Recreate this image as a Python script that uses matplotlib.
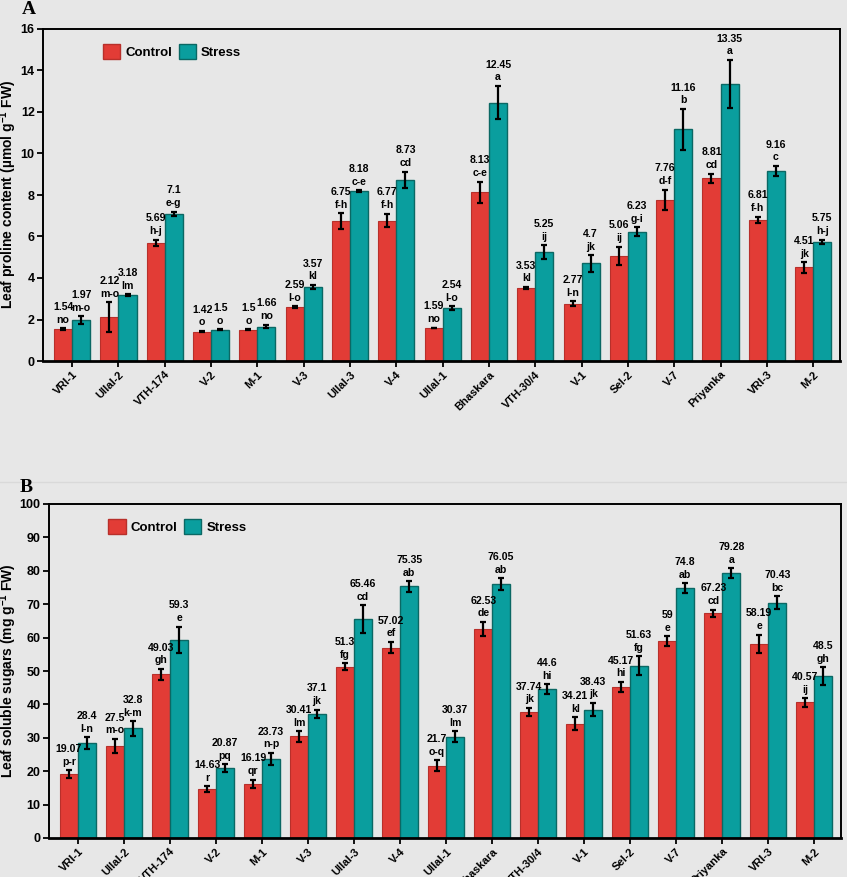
"""
Leaf proline (A) and leaf soluble sugars (B) under control vs. stress,
17 genotypes, grouped bars with SE and DMRT letters.
"""
import matplotlib

matplotlib.use("Agg")
import matplotlib.pyplot as plt
import numpy as np
from matplotlib.patches import Patch

plt.rcParams["font.family"] = ["Liberation Sans", "DejaVu Sans"]
plt.rcParams["mathtext.fontset"] = "custom"
plt.rcParams["mathtext.rm"] = "Liberation Sans:bold"
plt.rcParams["mathtext.it"] = "Liberation Sans:bold"
plt.rcParams["mathtext.bf"] = "Liberation Sans:bold"

GENOTYPES = ["VRI-1", "Ullal-2", "VTH-174", "V-2", "M-1", "V-3", "Ullal-3", "V-4",
             "Ullal-1", "Bhaskara", "VTH-30/4", "V-1", "Sel-2", "V-7", "Priyanka",
             "VRI-3", "M-2"]

# panel A - proline (umol g-1 FW)
proline_ctrl = [1.54, 2.12, 5.69, 1.42, 1.5, 2.59, 6.75, 6.77, 1.59, 8.13, 3.53,
                2.77, 5.06, 7.76, 8.81, 6.81, 4.51]
proline_ctrl_err = [0.03, 0.72, 0.16, 0.03, 0.03, 0.04, 0.38, 0.33, 0.02, 0.52,
                    0.04, 0.12, 0.45, 0.5, 0.22, 0.15, 0.26]
proline_ctrl_let = ["no", "m-o", "h-j", "o", "o", "l-o", "f-h", "f-h", "no", "c-e",
                    "kl", "l-n", "ij", "d-f", "cd", "f-h", "jk"]
proline_str = [1.97, 3.18, 7.1, 1.5, 1.66, 3.57, 8.18, 8.73, 2.54, 12.45, 5.25,
               4.7, 6.23, 11.16, 13.35, 9.16, 5.75]
proline_str_err = [0.18, 0.04, 0.1, 0.03, 0.09, 0.1, 0.05, 0.39, 0.09, 0.81, 0.32,
                   0.4, 0.22, 0.99, 1.16, 0.24, 0.1]
proline_str_let = ["m-o", "lm", "e-g", "o", "no", "kl", "c-e", "cd", "l-o", "a",
                   "ij", "jk", "g-i", "b", "a", "c", "h-j"]

# panel B - soluble sugars (mg g-1 FW)
sugar_ctrl = [19.07, 27.5, 49.03, 14.63, 16.19, 30.41, 51.3, 57.02, 21.7, 62.53,
              37.74, 34.21, 45.17, 59, 67.23, 58.19, 40.57]
sugar_ctrl_err = [1.15, 2.2, 1.6, 0.9, 1.25, 1.6, 1.0, 1.7, 1.65, 2.2, 1.25, 2.0,
                  1.6, 1.45, 1.15, 2.7, 1.35]
sugar_ctrl_let = ["p-r", "m-o", "gh", "r", "qr", "lm", "fg", "ef", "o-q", "de",
                  "jk", "kl", "hi", "e", "cd", "e", "ij"]
sugar_str = [28.4, 32.8, 59.3, 20.87, 23.73, 37.1, 65.46, 75.35, 30.37, 76.05,
             44.6, 38.43, 51.63, 74.8, 79.28, 70.43, 48.5]
sugar_str_err = [1.8, 2.15, 4.0, 1.15, 1.75, 1.3, 4.2, 1.6, 1.6, 1.65, 1.45, 2.0,
                 2.75, 1.4, 1.45, 1.9, 2.7]
sugar_str_let = ["l-n", "k-m", "e", "pq", "n-p", "jk", "cd", "ab", "lm", "ab", "hi",
                 "jk", "fg", "ab", "a", "bc", "gh"]

BG = "#e7e7e7"
RED = "#e23c36"
RED_EDGE = "#b8302b"
TEAL = "#0a9e9e"
TEAL_EDGE = "#0b6864"
W = 0.39


def draw_panel(ax, ctrl, ctrl_err, ctrl_let, strs, str_err, str_let, ymax, ystep,
               ylabel, label_x):
    x = np.arange(len(GENOTYPES))
    ax.set_facecolor(BG)
    ekw = dict(ecolor="black", elinewidth=1.6, capsize=2.5, capthick=1.6)
    ax.bar(x - W / 2, ctrl, W, color=RED, edgecolor=RED_EDGE, linewidth=0.8,
           yerr=ctrl_err, error_kw=ekw, zorder=2)
    ax.bar(x + W / 2, strs, W, color=TEAL, edgecolor=TEAL_EDGE, linewidth=1.0,
           yerr=str_err, error_kw=ekw, zorder=2)

    for xs, vals, errs, lets in ((x - W / 2, ctrl, ctrl_err, ctrl_let),
                                 (x + W / 2, strs, str_err, str_let)):
        for xi, v, e, lt in zip(xs, vals, errs, lets):
            ax.annotate(f"{v:g}\n{lt}", (xi, v + e), textcoords="offset points",
                        xytext=(0, 2.5), ha="center", va="bottom", fontsize=7.6,
                        fontweight="bold", linespacing=1.35, zorder=3)

    ax.set_xlim(-0.63, len(GENOTYPES) - 0.42)
    ax.set_ylim(0, ymax)
    ax.set_yticks(np.arange(0, ymax + 0.1, ystep))
    ax.set_xticks(x)
    ax.set_xticklabels(GENOTYPES, rotation=45, ha="right", rotation_mode="anchor",
                       fontsize=8, fontweight="bold")
    for lab in ax.get_yticklabels():
        lab.set_fontweight("bold")
        lab.set_fontsize(9)
    ax.set_ylabel(ylabel, fontsize=10, fontweight="bold")
    ax.yaxis.set_label_coords(label_x, 0.5)
    for side in ("top", "right", "left"):
        ax.spines[side].set_linewidth(1.4)
    ax.spines["bottom"].set_linewidth(2.0)
    ax.tick_params(axis="both", direction="out", length=4, width=1.3, pad=2)

    handles = [Patch(facecolor=RED, edgecolor=RED_EDGE),
               Patch(facecolor=TEAL, edgecolor=TEAL_EDGE)]
    ax.legend(handles, ["Control", "Stress"], loc="upper left",
              bbox_to_anchor=(0.06, 0.99), ncol=2, frameon=False,
              handlelength=1.3, handleheight=1.3, handletextpad=0.4,
              columnspacing=0.5, prop=dict(weight="bold", size=9.5))


fig = plt.figure(figsize=(8.47, 8.77), dpi=100, facecolor=BG)

ax_a = fig.add_axes([43 / 847, 1 - 361 / 877, 797 / 847, 332 / 877])
draw_panel(ax_a, proline_ctrl, proline_ctrl_err, proline_ctrl_let,
           proline_str, proline_str_err, proline_str_let, 16, 2,
           r"Leaf proline content (µmol g$^{-1}$ FW)", -0.030)

ax_b = fig.add_axes([49 / 847, 1 - 838 / 877, 792 / 847, 334 / 877])
draw_panel(ax_b, sugar_ctrl, sugar_ctrl_err, sugar_ctrl_let,
           sugar_str, sugar_str_err, sugar_str_let, 100, 10,
           r"Leaf soluble sugars (mg g$^{-1}$ FW)", -0.038)

# panel letters and faint separator
fig.text(22 / 847, 1 - 9 / 877, "A", fontsize=14, fontweight="bold",
         family="Liberation Serif", va="center")
fig.text(20 / 847, 1 - 487 / 877, "B", fontsize=14, fontweight="bold",
         family="Liberation Serif", va="center")
fig.add_artist(plt.Line2D([0, 1], [1 - 482 / 877] * 2, color="#d9d9d9", lw=1.0))

fig.savefig("out.png", dpi=100, facecolor=BG)
